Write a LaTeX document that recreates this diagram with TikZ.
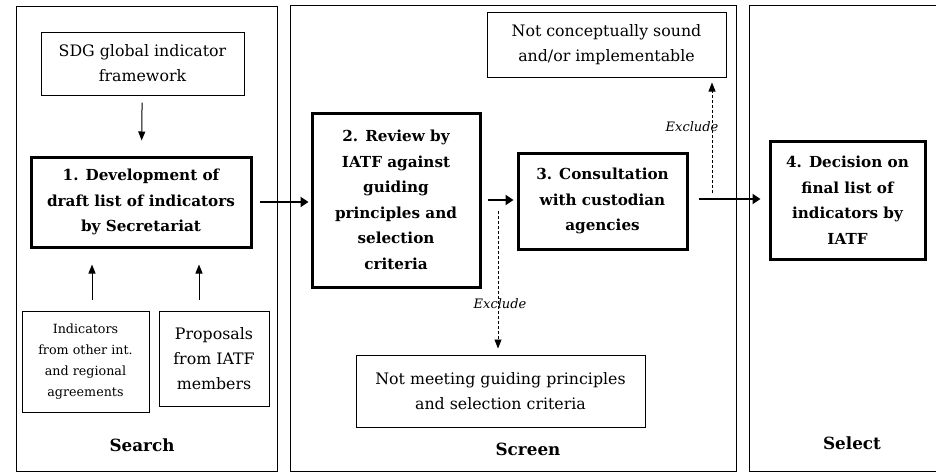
\documentclass[tikz,border=0pt]{standalone}
\usepackage{fontspec}
\setmainfont{DejaVu Serif}
\usetikzlibrary{positioning,arrows.meta}

\tikzset{
  panel/.style={draw, line width=0.9pt},
  plainbox/.style={draw, line width=1pt, align=center, inner sep=0pt,
    font=\fontsize{15.8}{25}\selectfont},
  smallbox/.style={plainbox, font=\fontsize{12.7}{21}\selectfont},
  stepbox/.style={draw, line width=3pt, align=center, inner sep=0pt,
    font=\bfseries\fontsize{15.2}{25.5}\selectfont},
  mainarr/.style={line width=2.4pt, -{Triangle[width=10pt,length=8pt]}},
  thinarr/.style={line width=1pt, -{Triangle[width=7pt,length=9pt]}},
  dasharr/.style={line width=0.8pt, dashed, dash pattern=on 3pt off 2pt,
    -{Triangle[width=7pt,length=9pt]}},
  exclude/.style={font=\itshape\fontsize{13}{15}\selectfont},
  phase/.style={font=\bfseries\fontsize{16.8}{20}\selectfont}
}

\begin{document}
\begin{tikzpicture}[x=1pt, y=-1pt]
  \useasboundingbox (0,0) rectangle (936,472);

  % the three phases
  \draw[panel] (16,6) rectangle (277,471);
  \draw[panel] (290,5) rectangle (736,471);
  \draw[panel] (749,5) rectangle (945,471);
  \node[phase] (search) at (142,445) {Search};
  \node[phase] (screen) at (528,449) {Screen};
  \node[phase] (select) at (852,443) {Select};

  % search
  \node[plainbox, minimum width=203, minimum height=63] (sdg) at (142.5,63.5)
    {SDG global indicator\\framework};
  \node[stepbox, minimum width=220, minimum height=90] (dev) at (141,202)
    {1. Development of\\draft list of indicators\\by Secretariat};
  \node[smallbox, minimum width=127, minimum height=101] (other) at (85.5,361.5)
    {Indicators\\from other int.\\and regional\\agreements};
  \node[plainbox, minimum width=110, minimum height=95] (proposals) at (214,358.5)
    {Proposals\\from IATF\\members};

  % screen
  \node[stepbox, minimum width=168, minimum height=174] (review) at (396,200)
    {2. Review by\\IATF against\\guiding\\principles and\\selection\\criteria};
  \node[stepbox, minimum width=169, minimum height=96] (consult) at (602.5,201)
    {3. Consultation\\with custodian\\agencies};
  \node[plainbox, minimum width=239, minimum height=65] (unsound) at (606.5,44.5)
    {Not conceptually sound\\and/or implementable};
  \node[plainbox, minimum width=289, minimum height=72] (unmet) at (500.5,391)
    {Not meeting guiding principles\\and selection criteria};

  % select
  \node[stepbox, minimum width=155, minimum height=118] (decision) at (847.5,200)
    {4. Decision on\\final list of\\indicators by\\IATF};

  % arrows
  \draw[thinarr, shorten <=7pt, shorten >=15pt] (sdg) -- (dev);
  \draw[thinarr, shorten <=11pt, shorten >=16pt] ([xshift=6.5pt]other.north) -- ([xshift=-49pt]dev.south);
  \draw[thinarr, shorten <=11pt, shorten >=16pt] ([xshift=-15pt]proposals.north) -- ([xshift=58pt]dev.south);
  \draw[mainarr, shorten <=7pt, shorten >=2pt] (dev.east) -- (dev.east -| review.west);
  \draw[mainarr, shorten <=6pt, shorten >=3pt] (review.east) -- (review.east -| consult.west);
  \draw[mainarr, shorten <=10pt, shorten >=8pt] ([yshift=2pt]consult.east) -- ([yshift=2pt]consult.east -| decision.west);

  \coordinate (upstart) at (712,193);
  \coordinate (downstart) at (498,211);
  \draw[dasharr, shorten >=5pt] (upstart) -- (upstart |- unsound.south);
  \draw[dasharr, shorten >=6pt] (downstart) -- (downstart |- unmet.north);
  \node[exclude] (excl1) at (692,127) {Exclude};
  \node[exclude] (excl2) at (500,304) {Exclude};
\end{tikzpicture}
\end{document}
